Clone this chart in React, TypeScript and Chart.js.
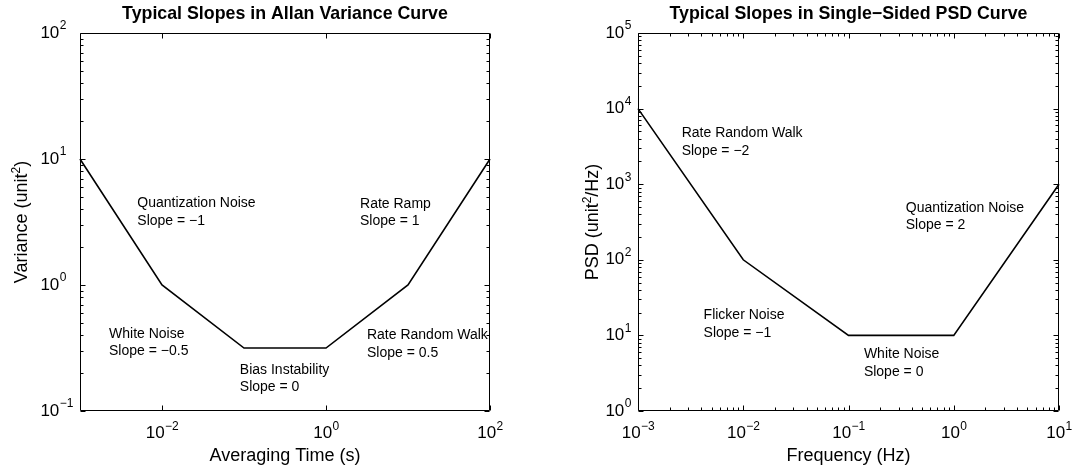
import React, { useEffect, useRef } from "react";
import { Chart, registerables } from "chart.js";

Chart.register(...registerables);

const FONT = '"Liberation Sans", Arial, Helvetica, sans-serif';

// ---------- Allan variance panel ----------
const allanTitle = "Typical Slopes in Allan Variance Curve";
const allanXLabel = "Averaging Time (s)";
const allanYLabelParts = ["Variance (unit", "2", ")"];
const allanTau = [1e-3, 1e-2, 1e-1, 1e0, 1e1, 1e2];
const allanVariance = [10, 1, 0.316, 0.316, 1, 10];
const allanXTickExps = [-2, 0, 2];
const allanYTickExps = [-1, 0, 1, 2];
const allanNoteLabels = [
  ["Quantization Noise", "Slope = \u22121"],
  ["Rate Ramp", "Slope = 1"],
  ["White Noise", "Slope = \u22120.5"],
  ["Rate Random Walk", "Slope = 0.5"],
  ["Bias Instability", "Slope = 0"],
];
const allanNoteX = [0.005, 2.6, 0.00226, 3.16, 0.089];
const allanNoteY = [3.8, 3.75, 0.35, 0.34, 0.18];

// ---------- PSD panel ----------
const psdTitle = "Typical Slopes in Single\u2212Sided PSD Curve";
const psdXLabel = "Frequency (Hz)";
const psdYLabelParts = ["PSD (unit", "2", "/Hz)"];
const psdFreq = [1e-3, 1e-2, 1e-1, 1e0, 1e1];
const psdValue = [1e4, 100, 10, 10, 1000];
const psdXTickExps = [-3, -2, -1, 0, 1];
const psdYTickExps = [0, 1, 2, 3, 4, 5];
const psdNoteLabels = [
  ["Rate Random Walk", "Slope = \u22122"],
  ["Quantization Noise", "Slope = 2"],
  ["Flicker Noise", "Slope = \u22121"],
  ["White Noise", "Slope = 0"],
];
const psdNoteX = [0.0026, 0.35, 0.0042, 0.14];
const psdNoteY = [3600, 370, 14, 4.3];

type PanelCfg = {
  xs: number[];
  ys: number[];
  xMinExp: number;
  xMaxExp: number;
  yMinExp: number;
  yMaxExp: number;
  xTicks: number[];
  yTicks: number[];
  xMinor: boolean;
  yMinor: boolean;
  title: string;
  xLabel: string;
  yLabelParts: string[];
  yLabelX: number;
  notes: string[][];
  noteX: number[];
  noteY: number[];
  padding: { left: number; right: number; top: number; bottom: number };
};

const TICK_SIZE = 17;
const EXP_SIZE = 12;
const LABEL_SIZE = 18;
const TITLE_SIZE = 17.8;
const NOTE_SIZE = 14;

function expStr(e: number) {
  return e < 0 ? "\u2212" + Math.abs(e) : String(e);
}

function powWidth(ctx: CanvasRenderingContext2D, e: number) {
  ctx.font = `${TICK_SIZE}px ${FONT}`;
  const w1 = ctx.measureText("10").width;
  ctx.font = `${EXP_SIZE}px ${FONT}`;
  const w2 = ctx.measureText(expStr(e)).width;
  return { w1, w2, total: w1 + w2 };
}

function drawPow(ctx: CanvasRenderingContext2D, xLeft: number, yMid: number, e: number) {
  const { w1 } = powWidth(ctx, e);
  ctx.textAlign = "left";
  ctx.textBaseline = "middle";
  ctx.font = `${TICK_SIZE}px ${FONT}`;
  ctx.fillText("10", xLeft, yMid);
  ctx.font = `${EXP_SIZE}px ${FONT}`;
  ctx.fillText(expStr(e), xLeft + w1 + 0.5, yMid - 7);
}

function makeOverlay(cfg: PanelCfg) {
  return {
    id: "matlabOverlay",
    afterDraw(chart: any) {
      const ctx: CanvasRenderingContext2D = chart.ctx;
      const a = chart.chartArea;
      const xs = chart.scales.x;
      const ys = chart.scales.y;
      ctx.save();
      ctx.fillStyle = "#000";
      ctx.strokeStyle = "#000";
      ctx.lineWidth = 1;

      const L = Math.round(a.left) + 0.5;
      const R = Math.round(a.right) - 0.5;
      const T = Math.round(a.top) + 0.5;
      const B = Math.round(a.bottom) - 0.5;
      ctx.beginPath();
      ctx.moveTo(L, T);
      ctx.lineTo(R, T);
      ctx.lineTo(R, B);
      ctx.lineTo(L, B);
      ctx.closePath();
      ctx.stroke();

      const MAJ = 5;
      const MIN = 3;
      const vTick = (px: number, len: number) => {
        const p = Math.round(px) + 0.5;
        ctx.moveTo(p, B);
        ctx.lineTo(p, B - len);
        ctx.moveTo(p, T);
        ctx.lineTo(p, T + len);
      };
      const hTick = (py: number, len: number) => {
        const p = Math.round(py) + 0.5;
        ctx.moveTo(L, p);
        ctx.lineTo(L + len, p);
        ctx.moveTo(R, p);
        ctx.lineTo(R - len, p);
      };
      ctx.beginPath();
      for (let e = cfg.xMinExp; e <= cfg.xMaxExp; e++) {
        if (cfg.xTicks.includes(e)) vTick(xs.getPixelForValue(Math.pow(10, e)), MAJ);
        if (cfg.xMinor && e < cfg.xMaxExp) {
          for (let m = 2; m <= 9; m++) vTick(xs.getPixelForValue(m * Math.pow(10, e)), MIN);
        }
      }
      for (let e = cfg.yMinExp; e <= cfg.yMaxExp; e++) {
        if (cfg.yTicks.includes(e)) hTick(ys.getPixelForValue(Math.pow(10, e)), MAJ);
        if (cfg.yMinor && e < cfg.yMaxExp) {
          for (let m = 2; m <= 9; m++) hTick(ys.getPixelForValue(m * Math.pow(10, e)), MIN);
        }
      }
      ctx.stroke();

      // x tick labels
      for (const e of cfg.xTicks) {
        const px = xs.getPixelForValue(Math.pow(10, e));
        const { total } = powWidth(ctx, e);
        drawPow(ctx, px - total / 2, a.bottom + 22.5, e);
      }
      // y tick labels
      let maxW = 0;
      for (const e of cfg.yTicks) maxW = Math.max(maxW, powWidth(ctx, e).total);
      for (const e of cfg.yTicks) {
        const py = ys.getPixelForValue(Math.pow(10, e));
        drawPow(ctx, a.left - 7 - maxW, py, e);
      }

      // title
      const cx = (a.left + a.right) / 2;
      ctx.font = `bold ${TITLE_SIZE}px ${FONT}`;
      ctx.textAlign = "center";
      ctx.textBaseline = "alphabetic";
      ctx.fillText(cfg.title, cx, 18.5);

      // x label
      ctx.font = `${LABEL_SIZE}px ${FONT}`;
      ctx.fillText(cfg.xLabel, cx, 460.5);

      // y label (rotated, with superscript)
      const cy = (a.top + a.bottom) / 2;
      ctx.save();
      ctx.translate(cfg.yLabelX, cy);
      ctx.rotate(-Math.PI / 2);
      ctx.textAlign = "left";
      const sizes = [LABEL_SIZE, EXP_SIZE, LABEL_SIZE];
      const raise = [0, 7, 0];
      let tot = 0;
      const widths = cfg.yLabelParts.map((t, i) => {
        ctx.font = `${sizes[i]}px ${FONT}`;
        const w = ctx.measureText(t).width;
        tot += w;
        return w;
      });
      let xx = -tot / 2;
      cfg.yLabelParts.forEach((t, i) => {
        ctx.font = `${sizes[i]}px ${FONT}`;
        ctx.fillText(t, xx, -raise[i]);
        xx += widths[i];
      });
      ctx.restore();

      // annotations
      ctx.font = `${NOTE_SIZE}px ${FONT}`;
      ctx.textAlign = "left";
      ctx.textBaseline = "middle";
      cfg.notes.forEach((lines, i) => {
        const px = xs.getPixelForValue(cfg.noteX[i]);
        const py = ys.getPixelForValue(cfg.noteY[i]);
        const lh = 17.5;
        const n = lines.length;
        lines.forEach((ln, j) => {
          ctx.fillText(ln, px, py + (j - (n - 1) / 2) * lh);
        });
      });

      ctx.restore();
    },
  };
}

function buildConfig(cfg: PanelCfg): any {
  return {
    type: "scatter",
    data: {
      datasets: [
        {
          data: cfg.xs.map((x, i) => ({ x, y: cfg.ys[i] })),
          showLine: true,
          borderColor: "#000",
          borderWidth: 1.6,
          pointRadius: 0,
          pointHoverRadius: 0,
          tension: 0,
          clip: false,
        },
      ],
    },
    options: {
      responsive: false,
      animation: false,
      events: [],
      layout: { padding: cfg.padding },
      scales: {
        x: {
          type: "logarithmic",
          min: Math.pow(10, cfg.xMinExp),
          max: Math.pow(10, cfg.xMaxExp),
          display: false,
        },
        y: {
          type: "logarithmic",
          min: Math.pow(10, cfg.yMinExp),
          max: Math.pow(10, cfg.yMaxExp),
          display: false,
        },
      },
      plugins: {
        legend: { display: false },
        tooltip: { enabled: false },
        title: { display: false },
      },
    },
    plugins: [makeOverlay(cfg)],
  };
}

export default function App() {
  const leftRef = useRef<HTMLCanvasElement>(null);
  const rightRef = useRef<HTMLCanvasElement>(null);

  useEffect(() => {
    const left = new Chart(
      leftRef.current!,
      buildConfig({
        xs: allanTau,
        ys: allanVariance,
        xMinExp: -3,
        xMaxExp: 2,
        yMinExp: -1,
        yMaxExp: 2,
        xTicks: allanXTickExps,
        yTicks: allanYTickExps,
        xMinor: false,
        yMinor: true,
        title: allanTitle,
        xLabel: allanXLabel,
        yLabelParts: allanYLabelParts,
        yLabelX: 27,
        notes: allanNoteLabels,
        noteX: allanNoteX,
        noteY: allanNoteY,
        padding: { left: 80, right: 48, top: 33, bottom: 59 },
      })
    );
    const right = new Chart(
      rightRef.current!,
      buildConfig({
        xs: psdFreq,
        ys: psdValue,
        xMinExp: -3,
        xMaxExp: 1,
        yMinExp: 0,
        yMaxExp: 5,
        xTicks: psdXTickExps,
        yTicks: psdYTickExps,
        xMinor: true,
        yMinor: true,
        title: psdTitle,
        xLabel: psdXLabel,
        yLabelParts: psdYLabelParts,
        yLabelX: 60,
        notes: psdNoteLabels,
        noteX: psdNoteX,
        noteY: psdNoteY,
        padding: { left: 100, right: 17, top: 33, bottom: 59 },
      })
    );
    return () => {
      left.destroy();
      right.destroy();
    };
  }, []);

  return (
    <div style={{ position: "absolute", left: 0, top: 0, width: 1076, height: 470, background: "#fff" }}>
      <canvas
        ref={leftRef}
        width={538}
        height={470}
        style={{ position: "absolute", left: 0, top: 0, width: 538, height: 470 }}
      />
      <canvas
        ref={rightRef}
        width={538}
        height={470}
        style={{ position: "absolute", left: 538, top: 0, width: 538, height: 470 }}
      />
    </div>
  );
}
